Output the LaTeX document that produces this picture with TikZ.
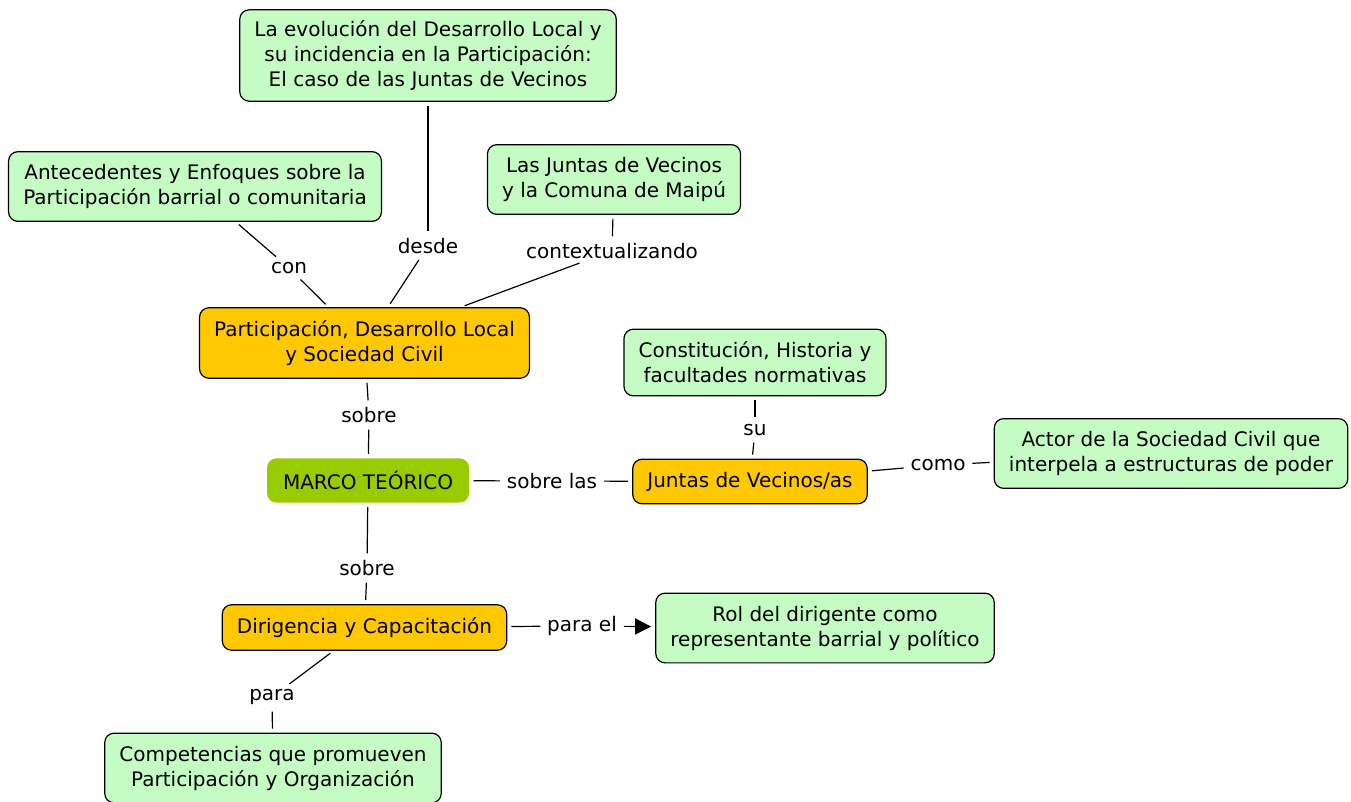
\documentclass[tikz,border=0pt]{standalone}
\usepackage{fontspec}
\setmainfont{DejaVu Sans}
\usetikzlibrary{arrows.meta}
\tikzset{>={Triangle[length=12pt,width=12pt]}}
\definecolor{conceptgreen}{RGB}{196,252,196}
\definecolor{topicorange}{RGB}{255,200,0}
\definecolor{rootgreen}{RGB}{153,204,0}
\tikzset{
  concept/.style={draw,line width=0.9pt,rounded corners=7pt,fill=conceptgreen,align=center,
    inner xsep=11pt,inner ysep=9.5pt,font=\fontsize{15}{18.75}\selectfont},
  topic/.style={concept,fill=topicorange},
  root/.style={concept,draw=none,fill=rootgreen,inner xsep=12pt,inner ysep=9.5pt},
  phrase/.style={inner sep=2pt,font=\fontsize{15}{18.75}\selectfont},
  link/.style={line width=0.9pt,shorten <=3pt,shorten >=3pt}
}

\begin{document}
\begin{tikzpicture}[x=0.75pt,y=-0.75pt]
\useasboundingbox (0,0) rectangle (1351,802);
% concepts
\node[root] (marco) at (368,480.5) {MARCO TEÓRICO};
\node[topic] (part) at (364.5,343) {Participación, Desarrollo Local\\y Sociedad Civil};
\node[topic] (juntas) at (750,481.5) {Juntas de Vecinos/as};
\node[topic] (dirig) at (364.5,627.5) {Dirigencia y Capacitación};
\node[concept,inner ysep=8pt] (evol) at (428,55.5) {La evolución del Desarrollo Local y\\su incidencia en la Participación:\\El caso de las Juntas de Vecinos};
\node[concept] (antec) at (195,186.5) {Antecedentes y Enfoques sobre la\\Participación barrial o comunitaria};
\node[concept] (maipu) at (614,179.5) {Las Juntas de Vecinos\\y la Comuna de Maipú};
\node[concept] (const) at (755,362.5) {Constitución, Historia y\\facultades normativas};
\node[concept] (actor) at (1171,453.5) {Actor de la Sociedad Civil que\\interpela a estructuras de poder};
\node[concept] (rol) at (825,628) {Rol del dirigente como\\representante barrial y político};
\node[concept] (compet) at (273,768) {Competencias que promueven\\Participación y Organización};
% linking phrases
\node[phrase] (con) at (289,268) {con};
\node[phrase] (desde) at (428,246) {desde};
\node[phrase] (context) at (612,251) {contextualizando};
\node[phrase] (sobre1) at (369,415) {sobre};
\node[phrase] (sobrelas) at (552,481) {sobre las};
\node[phrase] (su) at (755,430) {su};
\node[phrase] (como) at (938,465) {como};
\node[phrase] (sobre2) at (367,568) {sobre};
\node[phrase] (parael) at (582,626) {para el};
\node[phrase] (para) at (272,697) {para};
% connections
\draw[link] (antec) -- (con);
\draw[link] (con) -- (part);
\draw[link] (evol) -- (desde);
\draw[link] (desde) -- (part);
\draw[link] (maipu) -- (context);
\draw[link] (context) -- (part);
\draw[link] (part) -- (sobre1);
\draw[link] (sobre1) -- (marco);
\draw[link] (marco) -- (sobrelas);
\draw[link] (sobrelas) -- (juntas);
\draw[link] (const) -- (su);
\draw[link] (su) -- (juntas);
\draw[link] (juntas) -- (como);
\draw[link] (como) -- (actor);
\draw[link] (marco) -- (sobre2);
\draw[link] (sobre2) -- (dirig);
\draw[link] (dirig) -- (parael);
\draw[link,->] (parael) -- (rol);
\draw[link] (dirig) -- (para);
\draw[link] (para) -- (compet);
\end{tikzpicture}
\end{document}
